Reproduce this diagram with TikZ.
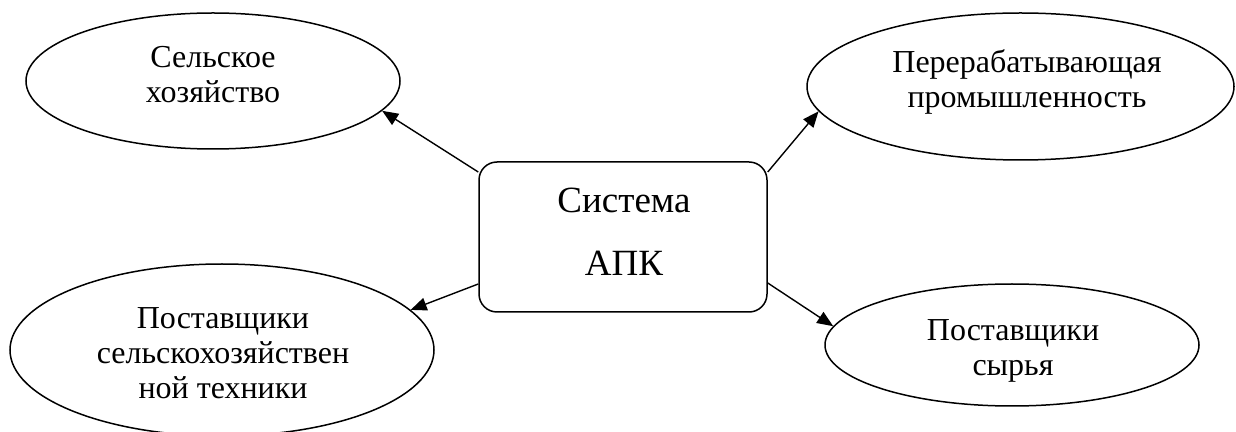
\documentclass[tikz,border=0pt]{standalone}
\usepackage{fontspec}
\setmainfont{Liberation Serif}
\usetikzlibrary{shapes.geometric,arrows.meta}
\tikzset{
  oval/.style={draw, ellipse, line width=0.75pt, inner sep=0pt},
  ovaltext/.style={inner sep=0pt, align=center, font=\fontsize{16}{17.5}\selectfont},
  centerbox/.style={draw, rectangle, rounded corners=9pt, line width=0.75pt,
    minimum width=144pt, minimum height=75pt, inner sep=0pt},
  boxtext/.style={inner sep=0pt, align=center, font=\fontsize{18.5}{31.5}\selectfont},
  link/.style={line width=0.7pt, -{Triangle[length=8pt,width=6.5pt]}}
}
\begin{document}
\begin{tikzpicture}[x=0.5pt,y=-0.5pt]
\useasboundingbox (0,0) rectangle (1236,432);
\node[oval, minimum width=187pt, minimum height=68pt] (e1) at (213,81) {};
\node[ovaltext] (t1) at (213,75) {Сельское\\хозяйство};
\node[oval, minimum width=213.5pt, minimum height=73.5pt] (e2) at (1020.5,86.5) {};
\node[ovaltext] (t2) at (1027,81.5) {Перерабатывающая\\промышленность};
\node[oval, minimum width=212pt, minimum height=86pt] (e3) at (222,350) {};
\node[ovaltext] (t3) at (223,353) {Поставщики\\сельскохозяйствен\\ной техники};
\node[oval, minimum width=187pt, minimum height=61pt] (e4) at (1012,345) {};
\node[ovaltext] (t4) at (1013,350.5) {Поставщики\\сырья};
\node[centerbox] (box) at (623,237) {};
\node[boxtext] (bt) at (624,232) {Система\\АПК};
\draw[link] ([yshift=32.5pt]box.west) -- (e1.-10.3);
\draw[link] ([yshift=32.5pt]box.east) -- (e2.187.4);
\draw[link] ([yshift=-23.5pt]box.west) -- (e3.12);
\draw[link] ([yshift=-23pt]box.east) -- (e4.174.2);
\end{tikzpicture}
\end{document}
